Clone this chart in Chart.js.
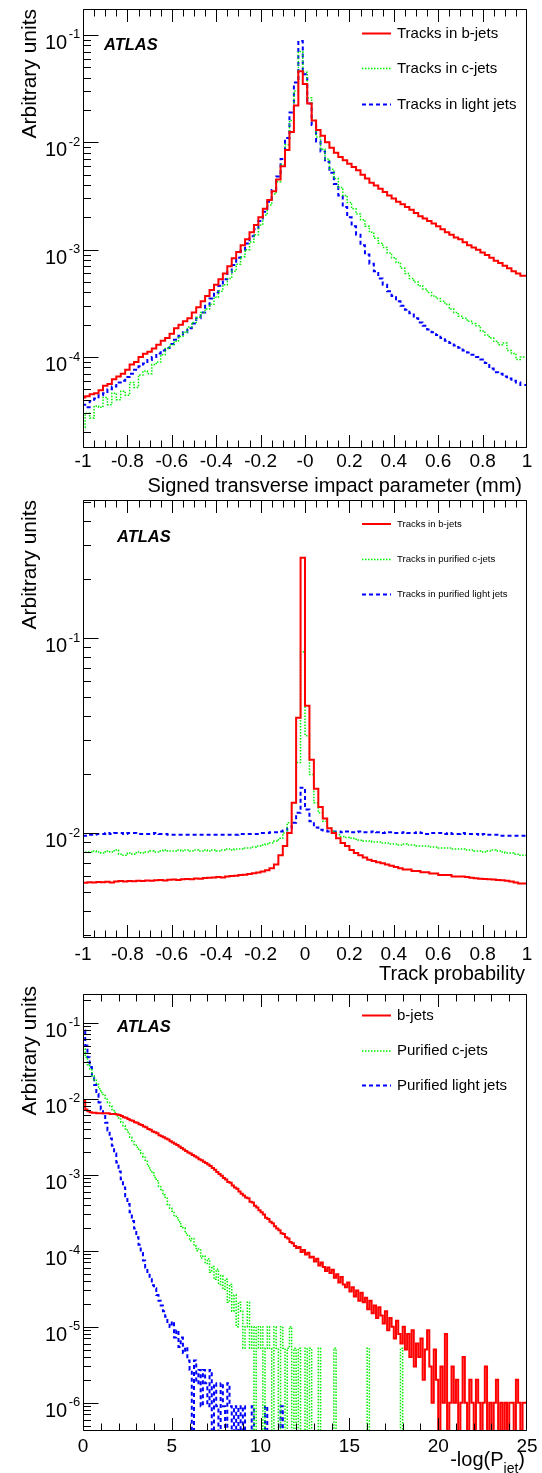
<!DOCTYPE html>
<html><head><meta charset="utf-8">
<script src="https://cdn.jsdelivr.net/npm/chart.js@4.4.0/dist/chart.umd.min.js"></script>
<style>
html,body{margin:0;padding:0;background:#fff;}
#wrap{position:relative;width:542px;height:1473px;overflow:hidden;background:#fff}
canvas{position:absolute;left:0}
</style>
</head><body><div id="wrap">
<canvas id="c1" width="542" height="500" style="top:0px"></canvas>
<canvas id="c2" width="542" height="490" style="top:495px"></canvas>
<canvas id="c3" width="542" height="488" style="top:985px"></canvas>
</div>
<script>
// ---------- Panel 1: signed transverse impact parameter (bins centred at -1.00 ... 1.00, width 0.02)
const ipBinLow = -1.01, ipBinWidth = 0.02;
const ipBjets = [4.0e-5,4.2e-5,4.3e-5,4.5e-5,4.6e-5,4.9e-5,5.4e-5,5.6e-5,6.2e-5,6.6e-5,
 7.0e-5,7.6e-5,8.5e-5,9.0e-5,1.0e-4,1.07e-4,1.12e-4,1.2e-4,1.3e-4,1.42e-4,
 1.5e-4,1.65e-4,1.85e-4,2.0e-4,2.15e-4,2.3e-4,2.6e-4,2.9e-4,3.3e-4,3.7e-4,
 4.2e-4,4.7e-4,5.3e-4,6.0e-4,7.0e-4,8.3e-4,9.5e-4,1.1e-3,1.25e-3,1.45e-3,
 1.7e-3,2.0e-3,2.4e-3,2.9e-3,3.5e-3,4.5e-3,6.0e-3,8.5e-3,1.25e-2,2.2e-2,
 4.6e-2,
 3.5e-2,2.3e-2,1.6e-2,1.3e-2,1.15e-2,1.0e-2,8.9e-3,8.0e-3,7.3e-3,6.8e-3,
 6.3e-3,5.9e-3,5.5e-3,5.0e-3,4.6e-3,4.2e-3,3.95e-3,3.7e-3,3.45e-3,3.2e-3,
 3.0e-3,2.8e-3,2.65e-3,2.5e-3,2.35e-3,2.2e-3,2.05e-3,1.95e-3,1.85e-3,1.75e-3,
 1.65e-3,1.55e-3,1.45e-3,1.38e-3,1.3e-3,1.25e-3,1.17e-3,1.1e-3,1.05e-3,1.0e-3,
 9.4e-4,8.9e-4,8.4e-4,7.9e-4,7.5e-4,7.1e-4,6.7e-4,6.3e-4,6.0e-4,5.7e-4];
const ipCjets = [2.6e-5,2.2e-5,3.0e-5,2.7e-5,3.5e-5,3.4e-5,4.2e-5,3.6e-5,4.6e-5,4.0e-5,
 4.8e-5,4.4e-5,5.8e-5,5.2e-5,6.8e-5,7.4e-5,7.0e-5,8.5e-5,9.0e-5,1.05e-4,
 1.2e-4,1.3e-4,1.4e-4,1.55e-4,1.7e-4,1.9e-4,2.1e-4,2.35e-4,2.6e-4,2.8e-4,
 3.1e-4,3.6e-4,4.1e-4,4.7e-4,5.4e-4,6.3e-4,7.3e-4,8.6e-4,1.0e-3,1.18e-3,
 1.38e-3,1.7e-3,2.1e-3,2.6e-3,3.3e-3,4.3e-3,6.2e-3,9.5e-3,1.6e-2,3.0e-2,
 7.0e-2,
 4.5e-2,2.6e-2,1.6e-2,1.12e-2,8.6e-3,7.0e-3,5.6e-3,4.6e-3,3.8e-3,3.2e-3,
 2.75e-3,2.4e-3,2.15e-3,1.9e-3,1.65e-3,1.45e-3,1.28e-3,1.15e-3,1.05e-3,9.3e-4,
 8.4e-4,7.6e-4,6.7e-4,6.0e-4,5.4e-4,5.0e-4,4.6e-4,4.3e-4,4.0e-4,3.7e-4,
 3.5e-4,3.3e-4,3.1e-4,2.8e-4,2.6e-4,2.4e-4,2.3e-4,2.15e-4,2.05e-4,1.95e-4,
 1.75e-4,1.6e-4,1.5e-4,1.4e-4,1.3e-4,1.35e-4,1.15e-4,1.08e-4,9.5e-5,1.0e-4];
const ipLjets = [3.2e-5,3.6e-5,3.4e-5,3.9e-5,4.1e-5,4.4e-5,4.6e-5,5.0e-5,5.3e-5,5.8e-5,
 6.0e-5,6.5e-5,7.0e-5,7.6e-5,8.2e-5,8.7e-5,9.4e-5,1.0e-4,1.08e-4,1.15e-4,
 1.21e-4,1.32e-4,1.45e-4,1.58e-4,1.7e-4,1.85e-4,2.05e-4,2.3e-4,2.6e-4,3.0e-4,
 3.5e-4,4.0e-4,4.6e-4,5.3e-4,6.2e-4,7.2e-4,8.4e-4,9.8e-4,1.14e-3,1.33e-3,
 1.55e-3,1.85e-3,2.25e-3,2.8e-3,3.6e-3,4.8e-3,7.0e-3,1.1e-2,1.9e-2,3.6e-2,
 8.8e-2,
 4.3e-2,2.3e-2,1.45e-2,1.02e-2,8.2e-3,6.6e-3,5.2e-3,4.1e-3,3.2e-3,2.5e-3,
 2.0e-3,1.65e-3,1.38e-3,1.1e-3,9.0e-4,7.4e-4,6.3e-4,5.4e-4,4.7e-4,4.1e-4,
 3.7e-4,3.3e-4,3.0e-4,2.75e-4,2.55e-4,2.3e-4,2.1e-4,1.95e-4,1.8e-4,1.7e-4,
 1.6e-4,1.5e-4,1.42e-4,1.35e-4,1.28e-4,1.22e-4,1.15e-4,1.1e-4,1.05e-4,1.0e-4,
 9.5e-5,8.8e-5,7.8e-5,7.2e-5,7.0e-5,6.6e-5,6.3e-5,6.0e-5,5.8e-5,5.5e-5];
const ipTickValues = [-1,-0.8,-0.6,-0.4,-0.2,0,0.2,0.4,0.6,0.8,1];
const ipTickLabels = ['-1','-0.8','-0.6','-0.4','-0.2','-0','0.2','0.4','0.6','0.8','1'];
const ipYExponents = ['-1','-2','-3','-4'];
const ipLegend = ['Tracks in b-jets','Tracks in c-jets','Tracks in light jets'];

// ---------- Panel 2: track probability (100 bins from -1 to 1)
const tpBinLow = -1, tpBinWidth = 0.02;
const tpBjets = [0.00552,0.00556,0.00560,0.00558,0.00562,0.00560,0.00563,0.00558,0.00565,0.00568,
 0.00565,0.00568,0.00566,0.00570,0.00568,0.00572,0.00570,0.00573,0.00575,0.00572,
 0.00576,0.00578,0.00575,0.00580,0.00582,0.00580,0.00585,0.00583,0.00588,0.00590,
 0.00592,0.00595,0.00593,0.00600,0.00602,0.00605,0.00610,0.00612,0.00618,0.00622,
 0.00628,0.00635,0.00645,0.00660,0.00690,0.00770,0.00860,0.0100,0.0143,0.039,
 0.258,0.045,0.0238,0.0169,0.0136,0.0119,0.0106,0.0100,0.0094,0.0089,
 0.0086,0.0082,0.0079,0.0077,0.0075,0.0073,0.0072,0.0071,0.0070,0.0069,
 0.0068,0.0067,0.0066,0.0065,0.0065,0.0064,0.0064,0.0063,0.0063,0.0062,
 0.0062,0.0061,0.0061,0.0061,0.0060,0.0060,0.0060,0.00595,0.00590,0.00587,
 0.00584,0.00582,0.00580,0.00578,0.00575,0.00573,0.00570,0.00565,0.00558,0.00552];
const tpCjets = [0.0079,0.0080,0.0080,0.0081,0.0080,0.0079,0.0081,0.0080,0.0082,0.0078,
 0.0077,0.0079,0.0078,0.0080,0.0079,0.0080,0.0081,0.0080,0.0081,0.0082,
 0.0081,0.0081,0.0082,0.0081,0.0082,0.0081,0.0082,0.0081,0.0082,0.0081,
 0.0082,0.0081,0.0082,0.0083,0.0082,0.0083,0.0083,0.0084,0.0084,0.0085,
 0.0086,0.0087,0.0088,0.0089,0.0091,0.0094,0.0100,0.0113,0.0143,0.023,
 0.085,0.0316,0.020,0.0143,0.0127,0.0115,0.0106,0.0102,0.0098,0.0096,
 0.0095,0.0094,0.0093,0.0092,0.0091,0.0091,0.0090,0.0090,0.0089,0.0089,
 0.0088,0.0088,0.0087,0.0088,0.0087,0.0087,0.0086,0.0086,0.0086,0.0085,
 0.0085,0.0084,0.0084,0.0084,0.0083,0.0083,0.0083,0.0082,0.0082,0.0081,
 0.0081,0.0080,0.0081,0.0082,0.0081,0.0080,0.0079,0.0079,0.0078,0.0077];
const tpLjets = [0.0097,0.0097,0.0098,0.0098,0.0099,0.0099,0.0100,0.0099,0.0100,0.0100,
 0.0099,0.0100,0.0100,0.0099,0.0099,0.0099,0.0099,0.0100,0.0099,0.0099,
 0.0098,0.0098,0.0098,0.0098,0.0098,0.0098,0.0098,0.0098,0.0098,0.0098,
 0.0098,0.0098,0.0098,0.0098,0.0098,0.0098,0.0099,0.0099,0.0099,0.0099,
 0.0099,0.0100,0.0100,0.0101,0.0101,0.0102,0.0103,0.0106,0.0113,0.0127,
 0.0171,0.0132,0.0115,0.0107,0.0104,0.0103,0.0102,0.0102,0.0102,0.0101,
 0.0102,0.0101,0.0101,0.0102,0.0101,0.0101,0.0102,0.0101,0.0100,0.0101,
 0.0101,0.0100,0.0100,0.0101,0.0100,0.0100,0.0101,0.0100,0.0099,0.0100,
 0.0100,0.0100,0.0099,0.0100,0.0099,0.0099,0.0100,0.0099,0.0099,0.0099,
 0.0098,0.0099,0.0098,0.0098,0.0098,0.0097,0.0097,0.0097,0.0097,0.0097];
const tpTickValues = [-1,-0.8,-0.6,-0.4,-0.2,0,0.2,0.4,0.6,0.8,1];
const tpTickLabels = ['-1','-0.8','-0.6','-0.4','-0.2','0','0.2','0.4','0.6','0.8','1'];
const tpYExponents = ['-1','-2'];
const tpLegend = ['Tracks in b-jets','Tracks in purified c-jets','Tracks in purified light jets'];

// ---------- Panel 3: -log(P_jet) (200 bins from 0 to 25)
const pjBinLow = 0, pjBinWidth = 0.125;
const pjBjets = [
 0.033,0.0095,0.0072,0.0068,0.0066,0.0065,0.0065,0.0064,
 0.0064,0.0064,0.0064,0.0064,0.0064,0.0063,0.0063,0.0063,
 0.0062,0.0061,0.0059,0.0057,0.0056,0.0054,0.0052,0.0051,
 0.0049,0.0048,0.0046,0.0045,0.0043,0.0042,0.0040,0.0039,
 0.0037,0.0036,0.0035,0.0033,0.0032,0.0031,0.0030,0.0029,
 0.00275,0.00265,0.00255,0.00245,0.00235,0.00225,0.00215,0.00205,
 0.00196,0.00190,0.00182,0.00175,0.00168,0.00160,0.00155,0.00148,
 1.42e-3,1.36e-3,1.30e-3,1.22e-3,1.16e-3,1.08e-3,1.02e-3,9.7e-4,
 9.0e-4,8.6e-4,8.0e-4,7.8e-4,7.2e-4,6.8e-4,6.5e-4,6.0e-4,
 5.6e-4,5.3e-4,5.0e-4,4.9e-4,4.4e-4,4.3e-4,3.9e-4,3.7e-4,
 3.4e-4,3.2e-4,3.0e-4,2.7e-4,2.6e-4,2.4e-4,2.3e-4,2.1e-4,
 1.95e-4,1.85e-4,1.7e-4,1.65e-4,1.5e-4,1.45e-4,1.3e-4,1.25e-4,
 1.15e-4,1.08e-4,1.12e-4,9.6e-5,1.02e-4,8.9e-5,9.4e-5,8.1e-5,
 8.3e-5,7.2e-5,7.8e-5,6.4e-5,7.0e-5,6.1e-5,5.4e-5,6.0e-5,
 5.1e-5,5.6e-5,4.4e-5,4.9e-5,3.8e-5,4.5e-5,3.6e-5,3.3e-5,
 3.8e-5,2.9e-5,3.3e-5,2.5e-5,3.0e-5,2.2e-5,2.8e-5,2.1e-5,
 2.4e-5,1.7e-5,2.2e-5,1.5e-5,1.9e-5,1.3e-5,1.8e-5,1.4e-5,
 1.1e-5,1.6e-5,9e-6,1.3e-5,1.0e-5,7e-6,1.2e-5,8e-6,
 6e-6,1.0e-5,5e-6,8e-6,4e-6,9e-6,3e-6,6e-6,
 4e-6,7e-6,2e-6,5e-6,9e-6,3e-6,1e-6,5e-6,
 2e-6,0,3e-6,1e-6,8e-6,0,1e-6,3e-6,
 1e-6,2e-6,0,1e-6,4e-6,1e-6,0,2e-6,
 1e-6,0,2e-6,1e-6,0,1e-6,3e-6,0,
 1e-6,0,1e-6,2e-6,0,1e-6,0,1e-6,
 0,1e-6,1e-6,0,2e-6,1e-6,0,1e-6];
const pjCjets = [
 0.056,0.045,0.035,0.028,0.024,0.020,0.0175,0.0155,
 0.0135,0.012,0.011,0.0098,0.0089,0.0080,0.0072,0.0066,
 0.0059,0.0054,0.0049,0.0044,0.0040,0.0036,0.0031,0.0028,
 0.0025,0.0023,0.0021,0.0019,0.0017,0.0015,0.0013,0.00115,
 0.00105,9.2e-4,8.3e-4,7.0e-4,6.4e-4,5.4e-4,4.9e-4,4.0e-4,
 3.6e-4,3.3e-4,2.9e-4,2.7e-4,2.4e-4,2.1e-4,2.0e-4,1.7e-4,
 1.6e-4,1.35e-4,1.45e-4,1.15e-4,1.0e-4,1.05e-4,8.0e-5,8.5e-5,
 6.8e-5,7.8e-5,5.2e-5,6.2e-5,4.2e-5,5.7e-5,3.6e-5,4.7e-5,
 3.1e-5,4.2e-5,2.1e-5,3.6e-5,1.6e-5,2.6e-5,1.0e-5,2.1e-5,
 1.6e-5,5.2e-6,1.0e-5,2.1e-5,5.2e-6,1.0e-5,0,1.0e-5,
 5.2e-6,1.0e-5,0,5.2e-6,1.0e-5,5.2e-6,0,1.0e-5,
 5.2e-6,0,1.0e-5,5.2e-6,0,5.2e-6,1.0e-5,0,
 5.2e-6,0,5.2e-6,0,0,5.2e-6,0,5.2e-6,
 0,0,0,5.2e-6,0,0,0,0,
 0,0,5.2e-6,0,0,0,0,0,
 0,0,0,0,0,0,0,0,
 0,5.2e-6,0,0,0,0,0,0,
 0,0,0,0,0,0,0,0,
 5.2e-6,0,0,0,0,0,0,0,
 0,0,0,0,0,0,0,0,
 0,0,0,0,0,0,0,0,
 0,0,0,0,0,0,0,0,
 0,0,0,0,0,0,0,0,
 0,0,0,0,0,0,0,0,
 0,0,0,0,0,0,0,0];
const pjLjets = [
 0.141,0.079,0.050,0.035,0.026,0.020,0.0151,0.0115,
 0.0089,0.0072,0.0059,0.0048,0.0038,0.0030,0.0024,0.0019,
 1.45e-3,1.1e-3,8.7e-4,6.8e-4,5.2e-4,4.1e-4,3.2e-4,2.45e-4,
 1.95e-4,1.5e-4,1.2e-4,9.3e-5,7.4e-5,6.0e-5,5.0e-5,4.2e-5,
 3.5e-5,3.2e-5,2.6e-5,2.2e-5,1.9e-5,1.6e-5,1.35e-5,1.1e-5,
 9.9e-6,1.17e-5,7.2e-6,9.0e-6,5.4e-6,7.2e-6,4.5e-6,5.4e-6,
 3.6e-6,2.7e-6,0,3.6e-6,1.8e-6,2.7e-6,0.9e-6,2.7e-6,
 1.8e-6,0.9e-6,2.7e-6,0,1.8e-6,0.9e-6,0,1.8e-6,
 0.9e-6,0,1.8e-6,0.9e-6,0,0.9e-6,0,0.9e-6,
 0,0.9e-6,0,0,0,0.9e-6,0,0,
 0,0,0,0.9e-6,0,0,0,0,
 0,0,0.9e-6,0,0,0,0,0,
 0,0,0,0,0,0,0,0,
 0,0,0,0,0,0,0,0,
 0,0,0,0,0,0,0,0,
 0,0,0,0,0,0,0,0,
 0,0,0,0,0,0,0,0,
 0,0,0,0,0,0,0,0,
 0,0,0,0,0,0,0,0,
 0,0,0,0,0,0,0,0,
 0,0,0,0,0,0,0,0,
 0,0,0,0,0,0,0,0,
 0,0,0,0,0,0,0,0,
 0,0,0,0,0,0,0,0,
 0,0,0,0,0,0,0,0];
const pjTickValues = [0,5,10,15,20,25];
const pjTickLabels = ['0','5','10','15','20','25'];
const pjYExponents = ['-1','-2','-3','-4','-5','-6'];
const pjLegend = ['b-jets','Purified c-jets','Purified light jets'];

// ---------- drawing helpers
const FONT = '"Liberation Sans", Arial, Helvetica, sans-serif';
const STYLE = [
  {color:'#ff0000', width:2, dash:[]},
  {color:'#00f000', width:1.5, dash:[1.5,1.5]},
  {color:'#0000ff', width:2, dash:[4,3]}
];
function binEdges(lo, w, n) { return Array.from({length:n+1}, (_, i) => +(lo + i*w).toFixed(5)); }
function histPoints(edges, vals) {
  const floor = v => (v > 0 ? v : 1e-12); // empty bins drop to the bottom of the frame
  const pts = vals.map((v, i) => ({x: edges[i], y: floor(v)}));
  pts.push({x: edges[vals.length], y: floor(vals[vals.length - 1])});
  return pts;
}

function rootPlugin(cfg) {
  return {
    id: 'rootStyle',
    afterDraw(chart) {
      const c = chart.ctx, a = chart.chartArea, xs = chart.scales.x, ys = chart.scales.y;
      c.save();
      c.strokeStyle = '#000'; c.lineWidth = 1; c.setLineDash([]);
      const L = Math.round(a.left) + 0.5, R = Math.round(a.right) - 0.5;
      const T = Math.round(a.top) + 0.5, B = Math.round(a.bottom) - 0.5;
      c.beginPath();
      c.rect(L, T, R - L, B - T);
      const nMin = Math.round((cfg.xmax - cfg.xmin) / cfg.xMinor);
      const ratio = Math.round(cfg.xMajor / cfg.xMinor);
      for (let k = 0; k <= nMin; k++) {
        const v = cfg.xmin + k * cfg.xMinor;
        let px = Math.round(xs.getPixelForValue(v)) + 0.5;
        px = Math.max(L, Math.min(R, px));
        const len = (k % ratio === 0) ? 12.5 : 7;
        c.moveTo(px, B); c.lineTo(px, B - len);
        c.moveTo(px, T); c.lineTo(px, T + len);
      }
      const d0 = Math.floor(Math.log10(cfg.ymin)), d1 = Math.ceil(Math.log10(cfg.ymax));
      for (let d = d0; d <= d1; d++) for (let m = 1; m <= 9; m++) {
        const v = m * Math.pow(10, d);
        if (v < cfg.ymin || v > cfg.ymax) continue;
        const py = Math.round(ys.getPixelForValue(v)) + 0.5;
        c.moveTo(L, py); c.lineTo(L + (m === 1 ? 15 : 7.5), py);
      }
      c.stroke();

      c.fillStyle = '#000';
      // y labels 10^n
      cfg.yExp.forEach(e => {
        const py = ys.getPixelForValue(Math.pow(10, +e));
        c.textAlign = 'left'; c.textBaseline = 'alphabetic';
        c.font = '20px ' + FONT;
        const w1 = c.measureText('10').width;
        c.fillText('10', 45, py + 14);
        c.font = '13px ' + FONT;
        c.fillText(e, 45 + w1 + 1.5, py + 3.5);
      });
      // x labels
      c.font = '19px ' + FONT; c.textAlign = 'center'; c.textBaseline = 'alphabetic';
      cfg.xTicks.forEach((v, i) => {
        c.fillText(cfg.xLabels[i], xs.getPixelForValue(v), a.bottom + cfg.xLabelDy);
      });
      // x title
      const ty = a.bottom + cfg.titleDy;
      if (cfg.xTitleSub) {
        c.font = '20px ' + FONT;
        const w1 = c.measureText(cfg.xTitle[0]).width, w3 = c.measureText(cfg.xTitle[2]).width;
        c.font = '14px ' + FONT;
        const w2 = c.measureText(cfg.xTitle[1]).width;
        let x0 = cfg.titleRight - w1 - w2 - w3;
        c.textAlign = 'left';
        c.font = '20px ' + FONT; c.fillText(cfg.xTitle[0], x0, ty);
        c.font = '14px ' + FONT; c.fillText(cfg.xTitle[1], x0 + w1, ty + 7);
        c.font = '20px ' + FONT; c.fillText(cfg.xTitle[2], x0 + w1 + w2, ty);
      } else {
        c.font = '20px ' + FONT; c.textAlign = 'right';
        c.fillText(cfg.xTitle, cfg.titleRight, ty);
      }
      // y title
      c.save();
      c.translate(30, cfg.yTitleTop);
      c.rotate(-Math.PI / 2);
      c.font = '21px ' + FONT; c.textAlign = 'right'; c.textBaseline = 'middle';
      c.fillText('Arbitrary units', 0, 0);
      c.restore();
      // ATLAS
      c.font = 'italic bold 16.5px ' + FONT; c.textAlign = 'left'; c.textBaseline = 'alphabetic';
      c.fillText('ATLAS', cfg.atlas[0], cfg.atlas[1]);
      // legend
      chart.data.datasets.forEach((ds, i) => {
        const y = cfg.legRows[i] + 0.5;
        c.save();
        c.strokeStyle = ds.borderColor; c.lineWidth = ds.borderWidth; c.setLineDash(ds.borderDash);
        c.beginPath(); c.moveTo(362, y); c.lineTo(391, y); c.stroke();
        c.restore();
        c.fillStyle = '#000';
        c.font = cfg.legFont; c.textAlign = 'left'; c.textBaseline = 'middle';
        c.fillText(ds.label, 397, y);
      });
      c.restore();
    }
  };
}

function makeChart(id, cfg, edges, series, labels) {
  const datasets = series.map((vals, i) => ({
    label: labels[i],
    data: histPoints(edges, vals),
    borderColor: STYLE[i].color, borderWidth: STYLE[i].width, borderDash: STYLE[i].dash,
    stepped: 'after', pointRadius: 0, pointHoverRadius: 0, fill: false, tension: 0, clip: 0
  }));
  return new Chart(document.getElementById(id), {
    type: 'line',
    data: {datasets},
    options: {
      responsive: false, animation: false, events: [],
      layout: {padding: cfg.padding},
      scales: {
        x: {type: 'linear', display: false, min: cfg.xmin, max: cfg.xmax},
        y: {type: 'logarithmic', display: false, min: cfg.ymin, max: cfg.ymax}
      },
      plugins: {legend: {display: false}, tooltip: {enabled: false}}
    },
    plugins: [rootPlugin(cfg)]
  });
}

makeChart('c1', {
  padding: {left: 83, top: 9, right: 15, bottom: 52},
  xmin: -1, xmax: 1, xMajor: 0.2, xMinor: 0.05,
  ymin: 1.42e-5, ymax: 0.1746,
  yExp: ipYExponents, xTicks: ipTickValues, xLabels: ipTickLabels, xLabelDy: 19,
  xTitle: 'Signed transverse impact parameter (mm)', titleRight: 522, titleDy: 44,
  yTitleTop: 9, atlas: [104, 50], legRows: [33, 68, 104], legFont: '15px ' + FONT
}, binEdges(ipBinLow, ipBinWidth, ipBjets.length), [ipBjets, ipCjets, ipLjets], ipLegend);

makeChart('c2', {
  padding: {left: 83, top: 5, right: 15, bottom: 47},
  xmin: -1, xmax: 1, xMajor: 0.2, xMinor: 0.05,
  ymin: 0.0029, ymax: 0.51,
  yExp: tpYExponents, xTicks: tpTickValues, xLabels: tpTickLabels, xLabelDy: 21.5,
  xTitle: 'Track probability', titleRight: 525, titleDy: 42,
  yTitleTop: 5, atlas: [117, 46.5], legRows: [28.5, 64, 99], legFont: '9.6px ' + FONT
}, binEdges(tpBinLow, tpBinWidth, tpBjets.length), [tpBjets, tpCjets, tpLjets], tpLegend);

makeChart('c3', {
  padding: {left: 83, top: 9, right: 15, bottom: 42},
  xmin: 0, xmax: 25, xMajor: 5, xMinor: 1,
  ymin: 4.24e-7, ymax: 0.238,
  yExp: pjYExponents, xTicks: pjTickValues, xLabels: pjTickLabels, xLabelDy: 21,
  xTitle: ['-log(P', 'jet', ')'], xTitleSub: true, titleRight: 525, titleDy: 35,
  yTitleTop: 1, atlas: [117, 47], legRows: [30, 65.5, 100], legFont: '15px ' + FONT
}, binEdges(pjBinLow, pjBinWidth, pjBjets.length), [pjBjets, pjCjets, pjLjets], pjLegend);
</script>
</body></html>
